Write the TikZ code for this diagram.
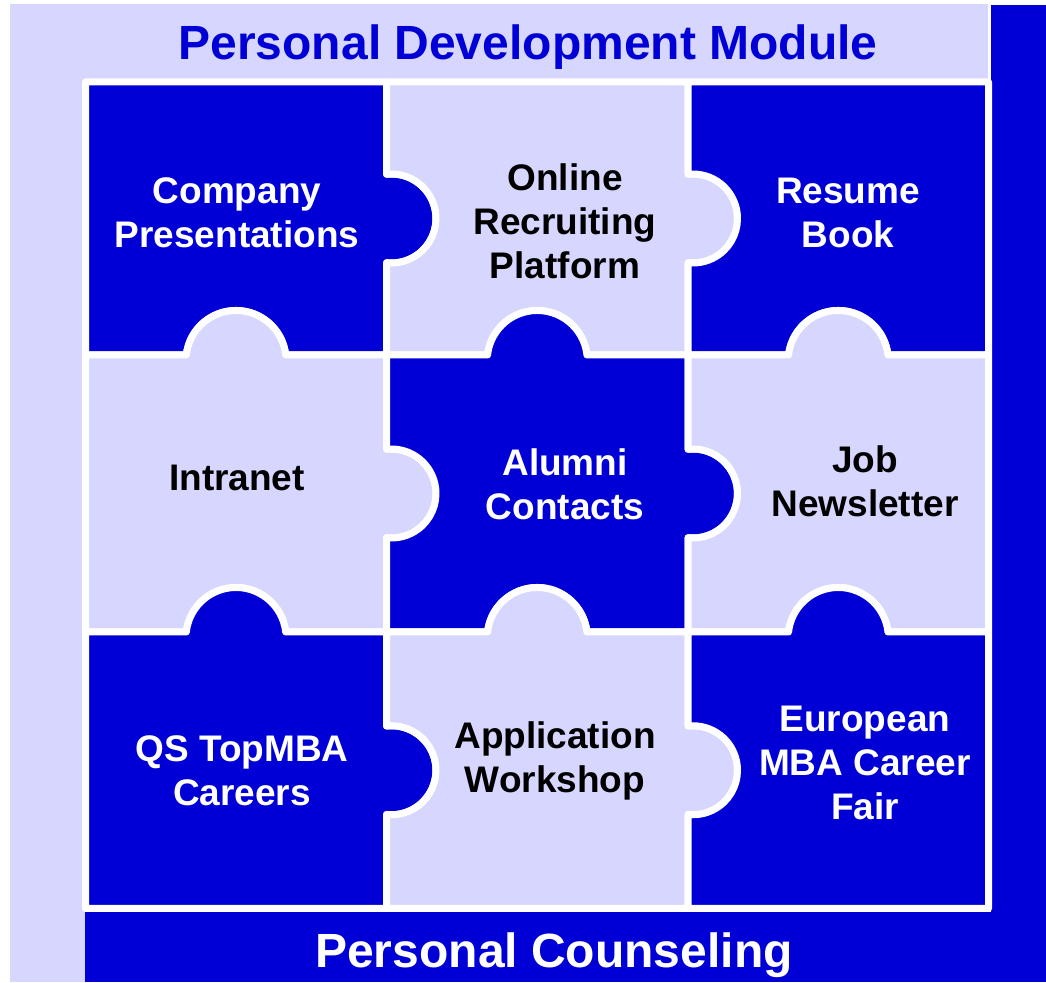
\documentclass[tikz,border=0pt]{standalone}
\usepackage{fontspec}
\setmainfont{Liberation Sans}
\definecolor{pzdark}{RGB}{0,0,214}
\definecolor{pzlight}{RGB}{214,214,255}
\newcommand\pzHK[2]{-- (#1,{#2-44.2}) arc[start angle=-96.45,end angle=96.45,radius=44.5]}
\newcommand\pzHN[2]{-- (#1,{#2+44.2}) arc[start angle=96.45,end angle=-96.45,radius=44.5]}
\newcommand\pzVK[2]{-- ({#1+49.7},#2) arc[start angle=6.3,end angle=173.7,radius=50]}
\newcommand\pzVN[2]{-- ({#1-49.7},#2) arc[start angle=173.7,end angle=6.3,radius=50]}
\tikzset{
  darktile/.style={fill=pzdark, draw=white, line width=7pt, line join=round},
  lighttile/.style={fill=pzlight, draw=white, line width=7pt, line join=round},
  darktext/.style={text=white, font=\fontsize{37}{44}\selectfont\bfseries, align=center, inner sep=0pt},
  lighttext/.style={text=black, font=\fontsize{37}{44}\selectfont\bfseries, align=center, inner sep=0pt},
}
\begin{document}
\begin{tikzpicture}[x=1pt,y=1pt]
\useasboundingbox (0,0) rectangle (1046,982);
% background bands
\fill[pzlight] (10,0) rectangle (988,977.5);
\fill[pzdark] (991,0) rectangle (1046,977);
\fill[pzdark] (85,0) rectangle (1046,70);
% tiles
\path[darktile] (85.5,627) \pzVN{236}{627} -- (386.5,627) \pzHK{386.5}{763.5} -- (386.5,900) -- (85.5,900) -- cycle;
\path[lighttile] (386.5,627) \pzVN{537.25}{627} -- (688,627) \pzHK{688}{763.5} -- (688,900) -- (386.5,900) \pzHN{386.5}{763.5} -- cycle;
\path[darktile] (688,627) \pzVN{838.25}{627} -- (988.5,627) -- (988.5,900) -- (688,900) \pzHN{688}{763.5} -- cycle;
\path[lighttile] (85.5,350) \pzVN{236}{350} -- (386.5,350) \pzHK{386.5}{488.5} -- (386.5,627) \pzVK{236}{627} -- (85.5,627) -- cycle;
\path[darktile] (386.5,350) \pzVN{537.25}{350} -- (688,350) \pzHK{688}{488.5} -- (688,627) \pzVK{537.25}{627} -- (386.5,627) \pzHN{386.5}{488.5} -- cycle;
\path[lighttile] (688,350) \pzVN{838.25}{350} -- (988.5,350) -- (988.5,627) \pzVK{838.25}{627} -- (688,627) \pzHN{688}{488.5} -- cycle;
\path[darktile] (85.5,73.5) -- (386.5,73.5) \pzHK{386.5}{211.75} -- (386.5,350) \pzVK{236}{350} -- (85.5,350) -- cycle;
\path[lighttile] (386.5,73.5) -- (688,73.5) \pzHK{688}{211.75} -- (688,350) \pzVK{537.25}{350} -- (386.5,350) \pzHN{386.5}{211.75} -- cycle;
\path[darktile] (688,73.5) -- (988.5,73.5) -- (988.5,350) \pzVK{838.25}{350} -- (688,350) \pzHN{688}{211.75} -- cycle;
% texts
\node[text=pzdark, font=\fontsize{48}{56}\selectfont\bfseries, inner sep=0pt] (title) at (528,935) {Personal Development Module};
\node[text=white, font=\fontsize{48}{56}\selectfont\bfseries, inner sep=0pt] (counsel) at (554,27) {Personal Counseling};
\node[darktext] (t11) at (237,769) {Company\\Presentations};
\node[lighttext] (t12) at (565,761) {Online\\Recruiting\\Platform};
\node[darktext] (t13) at (848,769) {Resume\\Book};
\node[lighttext] (t21) at (237,504) {Intranet};
\node[darktext] (t22) at (565,498) {Alumni\\Contacts};
\node[lighttext] (t23) at (865,501) {Job\\Newsletter};
\node[darktext] (t31) at (242,211) {QS TopMBA\\Careers};
\node[lighttext] (t32) at (555,221) {Application\\Workshop};
\node[darktext] (t33) at (865,219) {European\\MBA Career\\Fair};
\end{tikzpicture}
\end{document}
